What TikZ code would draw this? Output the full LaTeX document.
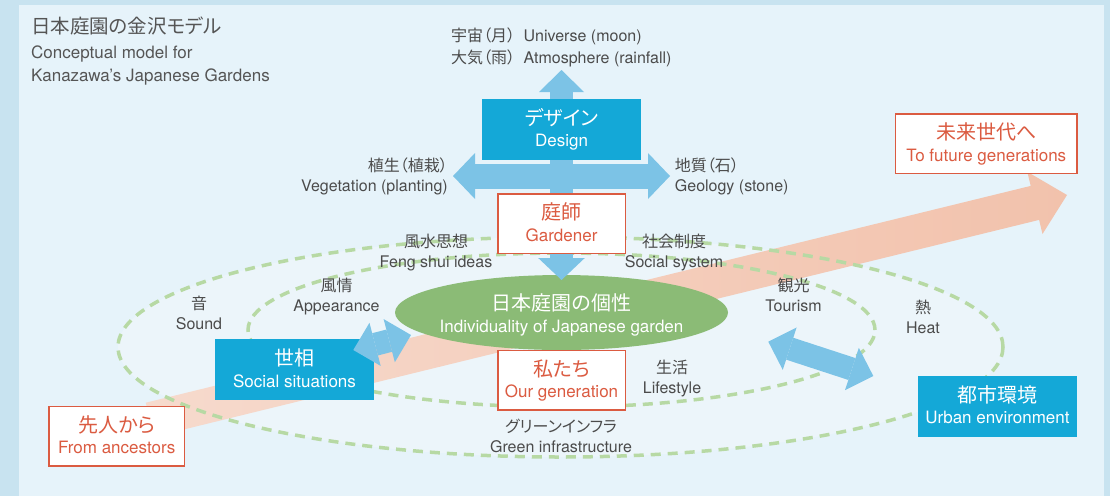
\documentclass[tikz,border=0pt]{standalone}
\usepackage{fontspec}
\setmainfont{TeX Gyre Heros}
\newfontfamily\jp{Noto Sans CJK JP}[RawFeature=+palt]
\usetikzlibrary{arrows.meta,shapes.geometric}
\definecolor{bgstrip}{HTML}{C8E3F0}
\definecolor{bgpanel}{HTML}{E6F3FA}
\definecolor{panelin}{HTML}{ECF5FA}
\definecolor{boxblue}{HTML}{14A8D7}
\definecolor{arrowblue}{HTML}{7CC3E6}
\definecolor{eligreen}{HTML}{8BBB76}
\definecolor{dashgreen}{HTML}{B7D9A4}
\definecolor{boxred}{HTML}{DB5B41}
\definecolor{lblgray}{HTML}{4B4B4B}
\definecolor{titlegray}{HTML}{555555}
\definecolor{peachL}{HTML}{F6DACD}
\definecolor{peachR}{HTML}{F2C2AC}
\newcommand\twol[2]{{\jp #1}\strut\\#2\strut}
\newcommand\boxt[2]{\rule{0pt}{20pt}{\jp\fontsize{20}{21.5}\selectfont #1}\\#2\rule[-6.6pt]{0pt}{6.6pt}}
\tikzset{
  bluebox/.style={fill=boxblue, text=white, minimum height=60.6pt, inner sep=0pt, align=center, font=\fontsize{17}{21.5}\selectfont},
  redbox/.style={fill=white, draw=boxred, line width=1.5pt, text=boxred, minimum height=59.5pt, inner sep=0pt, align=center, font=\fontsize{17}{21.5}\selectfont},
  lbl/.style={text=lblgray, align=center, inner sep=0pt, font=\fontsize{16}{20}\selectfont},
  dashring/.style={draw=dashgreen, line width=3.5pt, dash pattern=on 10pt off 7pt},
  smallarrow/.style={draw=arrowblue, line width=23pt, {Triangle[length=22.5pt,width=44.6pt,line width=0pt]}-{Triangle[length=22.5pt,width=44.6pt,line width=0pt]}},
}
\begin{document}
\begin{tikzpicture}[x=1pt,y=-1pt]
\useasboundingbox (0,0) rectangle (1110,496);
% background
\fill[bgstrip] (0,0) rectangle (1110,496);
\fill[bgpanel] (19,5) rectangle (1104,496);
\fill[panelin] (560.5,347) ellipse [x radius=442.5pt, y radius=110pt];
% big peach arrow
\shade[left color=peachL, right color=peachR] (145.8,402.7) -- (1030.7,185.9) -- (1027.3,171.8) -- (1067,195) -- (1042.5,234) -- (1039.1,219.9) -- (154.2,436.7) -- cycle;
% dashed rings
\draw[dashring] (560.5,347) ellipse [x radius=442.5pt, y radius=110pt];
\draw[dashring] (561.5,330) ellipse [x radius=313.5pt, y radius=77pt];
% central ellipse
\node[ellipse, fill=eligreen, minimum width=333pt, minimum height=75pt, inner sep=0pt] (indiv) at (561.5,312.5) {};
\node[text=white, align=center, inner sep=0pt, font=\fontsize{17}{22}\selectfont] (indivtxt) at (indiv.center) {\rule{0pt}{24.8pt}{\jp\fontsize{20}{22}\selectfont 日本庭園の個性}\\Individuality of Japanese garden\rule[-6.6pt]{0pt}{6.6pt}};
% cross arrows
\coordinate (cN) at (561.5,70);
\coordinate (cS) at (561.5,280);
\coordinate (cW) at (453,176);
\coordinate (cE) at (670,176);
\draw[draw=arrowblue, line width=22.3pt, {Triangle[length=22pt,width=45pt,line width=0pt]}-{Triangle[length=22pt,width=46.6pt,line width=0pt]}] (cN) -- (cS);
\draw[draw=arrowblue, line width=25pt, {Triangle[length=22pt,width=46pt,line width=0pt]}-{Triangle[length=22pt,width=46pt,line width=0pt]}] (cW) -- (cE);
% boxes
\node[bluebox, minimum width=158.4pt] (design) at (561.5,129.2) {\boxt{デザイン}{Design}};
\node[redbox, minimum width=127.5pt] (gardener) at (561.5,223.8) {\boxt{庭師}{Gardener}};
\node[redbox, minimum width=127.5pt] (ourgen) at (561.5,380.3) {\boxt{私たち}{Our generation}};
\node[bluebox, minimum width=159pt] (social) at (294.5,369.6) {\boxt{世相}{Social situations}};
\node[redbox, minimum width=135.2pt] (ances) at (116.7,436.2) {\boxt{先人から}{From ancestors}};
\node[redbox, minimum width=181.2pt] (future) at (986.3,143.8) {\boxt{未来世代へ}{To future generations}};
\node[bluebox, minimum width=158.4pt] (urban) at (997.5,406.3) {\boxt{都市環境}{Urban environment}};
% small double arrows
\coordinate (sa1) at (353.3,350);
\coordinate (sa2) at (411,335);
\coordinate (ta1) at (768.3,341.7);
\coordinate (ta2) at (873.3,376);
\draw[smallarrow] (sa1) -- (sa2);
\draw[smallarrow] (ta1) -- (ta2);
% title
\node[anchor=base west, text=titlegray, inner sep=0pt, font=\jp\fontsize{19.5}{22}\selectfont] (t1) at (31,33.9) {日本庭園の金沢モデル};
\node[anchor=base west, text=titlegray, inner sep=0pt, font=\fontsize{17}{20}\selectfont] (t2) at (31,58.3) {Conceptual model for};
\node[anchor=base west, text=titlegray, inner sep=0pt, font=\fontsize{17}{20}\selectfont] (t3) at (31,81.7) {Kanazawa’s Japanese Gardens};
% labels
\node[lbl, anchor=west, align=left, font=\fontsize{16}{22}\selectfont] (cosmos) at (451,47.9) {{\jp 宇宙（月）}\hspace{8.5pt}Universe (moon)\strut\\{\jp 大気（雨）}\hspace{8.5pt}Atmosphere (rainfall)\strut};
\node[lbl, anchor=east, align=right] (veg) at (448,177.8) {\twol{植生（植栽）}{Vegetation (planting)}};
\node[lbl, anchor=west, align=left] (geo) at (674.7,177.8) {\twol{地質（石）}{Geology (stone)}};
\node[lbl] (feng) at (436,253.8) {\twol{風水思想}{Feng shui ideas}};
\node[lbl] (socsys) at (674,253.8) {\twol{社会制度}{Social system}};
\node[lbl] (snd) at (199,315.8) {\twol{音}{Sound}};
\node[lbl] (appear) at (336.5,297.8) {\twol{風情}{Appearance}};
\node[lbl] (tour) at (793.5,297.8) {\twol{観光}{Tourism}};
\node[lbl] (heat) at (923,319.8) {\twol{熱}{Heat}};
\node[lbl] (life) at (672,379.8) {\twol{生活}{Lifestyle}};
\node[lbl] (greeninf) at (561,438.3) {\twol{グリーンインフラ}{Green infrastructure}};
\end{tikzpicture}
\end{document}
